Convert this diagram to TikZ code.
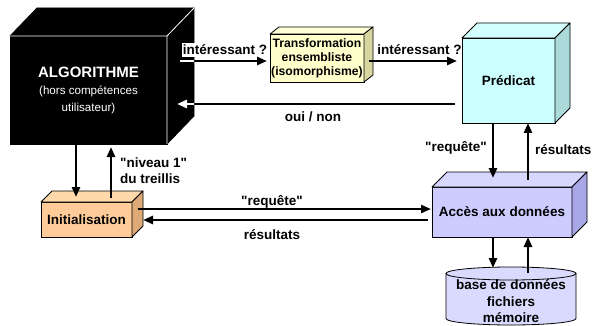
\documentclass[tikz,border=0pt]{standalone}
\usepackage{fontspec}
\setmainfont{Liberation Sans}[Ligatures=TeXOff]
\usetikzlibrary{arrows.meta,calc}
\definecolor{trF}{HTML}{FFFFCC}\definecolor{trT}{HTML}{FFFFD6}\definecolor{trS}{HTML}{D8D6A0}
\definecolor{prF}{HTML}{CCFFFF}\definecolor{prT}{HTML}{D4FFFF}\definecolor{prS}{HTML}{ACDADA}
\definecolor{acF}{HTML}{CCCCFF}\definecolor{acT}{HTML}{D6D6FF}\definecolor{acS}{HTML}{A8A8E6}
\definecolor{inF}{HTML}{FFCC99}\definecolor{inT}{HTML}{FFD9AA}\definecolor{inS}{HTML}{DDAA77}
\definecolor{dbF}{HTML}{DADAFF}
\newcommand\boxfaces[5]{%
  \filldraw[fill=#4,line width=0.8pt,line join=round] (#1.north west) -- ++(#2,#3) -- ($(#1.north east)+(#2,#3)$) -- (#1.north east) -- cycle;
  \filldraw[fill=#5,line width=0.8pt,line join=round] (#1.north east) -- ++(#2,#3) -- ($(#1.south east)+(#2,#3)$) -- (#1.south east) -- cycle;}
\newcommand\qq{\symbol{34}}
\begin{document}
\begin{tikzpicture}[x=1pt,y=-1pt,
  face/.style={draw=black,line width=0.8pt,inner sep=0pt,outer sep=0pt,align=center,
    font=\bfseries\fontsize{13.5}{16.5}\selectfont},
  arr/.style={line width=2.6pt,-{Triangle[length=10pt,width=8pt]}},
  lbl/.style={font=\bfseries\fontsize{13.5}{16}\selectfont,inner sep=0pt,align=left}]
\useasboundingbox[fill=white] (0,0) rectangle (594,326);

% ALGORITHME cube
\node[face,fill=black,text=white,minimum width=157pt,minimum height=108pt] (alg) at (88.5,90)
  {\fontsize{15}{18}\selectfont ALGORITHME\\[1pt]
   \mdseries\fontsize{11.6}{16}\selectfont (hors compétences\\
   \mdseries\fontsize{11.6}{16}\selectfont utilisateur)};
\boxfaces{alg}{27}{-28}{black}{black}
\draw[white,line width=0.8pt] (alg.north west) -- (alg.north east) -- (alg.south east)
  (alg.north east) -- ++(27,-28);

% Transformation
\node[face,fill=trF,minimum width=94pt,minimum height=48pt,font=\bfseries\fontsize{12.2}{14}\selectfont] (trans) at (317,58)
  {Transformation\\ensembliste\\(isomorphisme)};
\boxfaces{trans}{9}{-7}{trT}{trS}

% Predicat
\node[face,fill=prF,minimum width=93pt,minimum height=85pt] (pred) at (508.5,80.5) {Prédicat};
\boxfaces{pred}{15}{-15}{prT}{prS}

% Acces
\node[face,fill=acF,minimum width=140pt,minimum height=50pt] (acc) at (502,212) {Accès aux données};
\boxfaces{acc}{15}{-15}{acT}{acS}

% Initialisation
\node[face,fill=inF,minimum width=91pt,minimum height=35pt] (init) at (86.5,219.5) {Initialisation};
\boxfaces{init}{11}{-11}{inT}{inS}

% database cylinder
\node[inner sep=0pt,outer sep=0pt,minimum width=130pt,minimum height=58pt] (db) at (511,296) {};
\fill[dbF] ($(db.center)+(-65,-22.5)$) -- ($(db.center)+(-65,22.5)$)
  arc[start angle=180,end angle=0,x radius=65,y radius=6.5] -- ($(db.center)+(65,-22.5)$) -- cycle;
\draw[line width=0.8pt] ($(db.center)+(-65,-22.5)$) -- ($(db.center)+(-65,22.5)$)
  arc[start angle=180,end angle=0,x radius=65,y radius=6.5] -- ($(db.center)+(65,-22.5)$);
\draw[line width=0.8pt,fill=dbF] ($(db.center)+(0,-22.5)$) ellipse[x radius=65,y radius=6.5];
\node[face,draw=none,align=center] (dbt) at ($(db.center)+(0,5.5)$) {base de données\\fichiers\\mémoire};

% labels
\node[lbl,fill=white,inner xsep=1pt,inner ysep=2pt] (l1) at (225,50) {intéressant ?};
\node[lbl] (l2) at (419.5,50) {intéressant ?};
\node[lbl] (l3) at (313,117) {oui / non};
\node[lbl,anchor=east] (l4) at (487,148) {\qq requête\qq};
\node[lbl,anchor=west] (l5) at (535,150) {résultats};
\node[lbl,anchor=north west] (l6) at (120,158) {\qq niveau 1\qq\\du treillis};
\node[lbl] (l7) at (272,202) {\qq requête\qq};
\node[lbl] (l8) at (272,235) {résultats};

% arrows
\draw[arr] ($(alg.east|-trans.west)+(13,3)$) -- ($(trans.west)+(-3,3)$);
\draw[arr] ($(trans.east)+(5,3)$) -- ($(pred.west)+(-5,-19.5)$);
\draw[arr] ($(pred.west)+(-7,23.5)$) -- ($(alg.east)+(10,14)$);
\begin{scope}
  \clip (alg.north east) -- ++(27,-28) -- ($(alg.south east)+(27,-28)$) -- (alg.south east) -- cycle;
  \draw[arr,white] ($(alg.east|-trans.west)+(13,3)$) -- ($(trans.west)+(-3,3)$);
  \draw[arr,white] ($(pred.west)+(-7,23.5)$) -- ($(alg.east)+(10,14)$);
\end{scope}
\draw[arr] ($(pred.south)+(-15.5,0)$) -- ($(acc.north)+(-9,-9)$);
\draw[arr] ($(acc.north)+(26,-7)$) -- ($(pred.south)+(19.5,0)$);
\draw[arr] ($(acc.south)+(-9,0)$) -- ($(db.north)+(-18,1)$);
\draw[arr] ($(db.north)+(17,6)$) -- ($(acc.south)+(26,0)$);
\draw[arr] ($(alg.south)+(-12.5,0)$) -- ($(init.north)+(-10.5,-5)$);
\draw[arr] ($(init.north)+(24.5,-4)$) -- ($(alg.south)+(22.5,3)$);
\draw[arr] ($(init.east)+(6,-10.5)$) -- ($(acc.west)+(-1,-3)$);
\draw[arr] ($(acc.west)+(-4,8)$) -- ($(init.east)+(11,0.5)$);
\end{tikzpicture}
\end{document}
